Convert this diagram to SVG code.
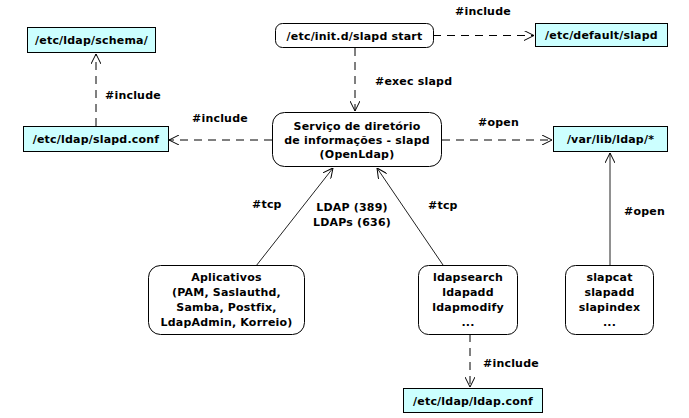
<svg xmlns="http://www.w3.org/2000/svg" width="689" height="418" viewBox="0 0 689 418">
<defs>
<style>
text{font-family:"DejaVu Sans","Liberation Sans",sans-serif;font-weight:bold;font-size:11px;fill:#000;letter-spacing:0.2px}
.c{text-anchor:middle}
.file{fill:#ccffff;stroke:#000;stroke-width:1}
.proc{fill:#fff;stroke:#000;stroke-width:1}
.dash{fill:none;stroke:#000;stroke-width:1;stroke-dasharray:8,6}
.solid{fill:none;stroke:#222;stroke-width:1}
</style>
<marker id="arr" viewBox="0 0 10 10" refX="10" refY="5" markerWidth="10" markerHeight="10" markerUnits="userSpaceOnUse" orient="auto">
<path d="M0,0 L10,5 L0,10" fill="none" stroke="#000" stroke-width="1"/>
</marker>
</defs>
<rect width="689" height="418" fill="#fff"/>
<g id="connectors">
<line class="dash" x1="96" y1="126" x2="96" y2="54" marker-end="url(#arr)"/>
<text x="105" y="99">#include</text>
<line class="dash" x1="272" y1="140" x2="169" y2="140" marker-end="url(#arr)"/>
<text x="192" y="122">#include</text>
<line class="dash" x1="433" y1="35.5" x2="534" y2="35.5" marker-end="url(#arr)"/>
<text x="455" y="15">#include</text>
<line class="dash" x1="355" y1="48" x2="355" y2="111" marker-end="url(#arr)"/>
<text x="375" y="85">#exec slapd</text>
<line class="dash" x1="442" y1="140" x2="552" y2="140" marker-end="url(#arr)"/>
<text x="478" y="126">#open</text>
<line class="solid" x1="256" y1="266" x2="333" y2="168" marker-end="url(#arr)"/>
<text x="252" y="208">#tcp</text>
<text class="c" x="352" y="211">LDAP (389)</text>
<text class="c" x="352" y="226">LDAPs (636)</text>
<line class="solid" x1="443" y1="265" x2="377" y2="168" marker-end="url(#arr)"/>
<text x="428" y="209">#tcp</text>
<line class="dash" x1="470" y1="334" x2="470" y2="387" marker-end="url(#arr)"/>
<text x="483" y="367">#include</text>
<line class="solid" x1="610" y1="265" x2="610" y2="153" marker-end="url(#arr)"/>
<text x="624" y="215">#open</text>
</g>
<g id="schema">
<rect class="file" x="27.5" y="27.5" width="128" height="25"/>
<text class="c" x="91.5" y="44">/etc/ldap/schema/</text>
</g>
<g id="slapdconf">
<rect class="file" x="23.5" y="126.5" width="145" height="25"/>
<text class="c" x="96" y="143">/etc/ldap/slapd.conf</text>
</g>
<g id="initd">
<rect class="proc" x="275.5" y="23.5" width="158" height="24" rx="7"/>
<text class="c" x="354.5" y="40">/etc/init.d/slapd start</text>
</g>
<g id="default">
<rect class="file" x="535.5" y="23.5" width="132" height="23"/>
<text class="c" x="601.5" y="39">/etc/default/slapd</text>
</g>
<g id="slapd">
<rect class="proc" x="272.5" y="112.5" width="169" height="54" rx="12"/>
<text class="c" x="357" y="129.5">Serviço de diretório</text>
<text class="c" x="357" y="143.5">de informações - slapd</text>
<text class="c" x="357" y="157.5">(OpenLdap)</text>
</g>
<g id="varlib">
<rect class="file" x="553.5" y="126.5" width="114" height="25"/>
<text class="c" x="610.5" y="143">/var/lib/ldap/*</text>
</g>
<g id="aplicativos">
<rect class="proc" x="148.5" y="265.5" width="156" height="69" rx="12"/>
<text class="c" x="226.5" y="281">Aplicativos</text>
<text class="c" x="226.5" y="296">(PAM, Saslauthd,</text>
<text class="c" x="226.5" y="311">Samba, Postfix,</text>
<text class="c" x="226.5" y="326">LdapAdmin, Korreio)</text>
</g>
<g id="ldaptools">
<rect class="proc" x="418.5" y="265.5" width="99" height="69" rx="10"/>
<text class="c" x="468" y="281">ldapsearch</text>
<text class="c" x="468" y="296">ldapadd</text>
<text class="c" x="468" y="311">ldapmodify</text>
<text class="c" x="468" y="326">...</text>
</g>
<g id="slaptools">
<rect class="proc" x="565.5" y="265.5" width="88" height="69" rx="10"/>
<text class="c" x="609.5" y="281">slapcat</text>
<text class="c" x="609.5" y="296">slapadd</text>
<text class="c" x="609.5" y="311">slapindex</text>
<text class="c" x="609.5" y="326">...</text>
</g>
<g id="ldapconf">
<rect class="file" x="403.5" y="388.5" width="139" height="24"/>
<text class="c" x="473" y="405">/etc/ldap/ldap.conf</text>
</g>
</svg>
